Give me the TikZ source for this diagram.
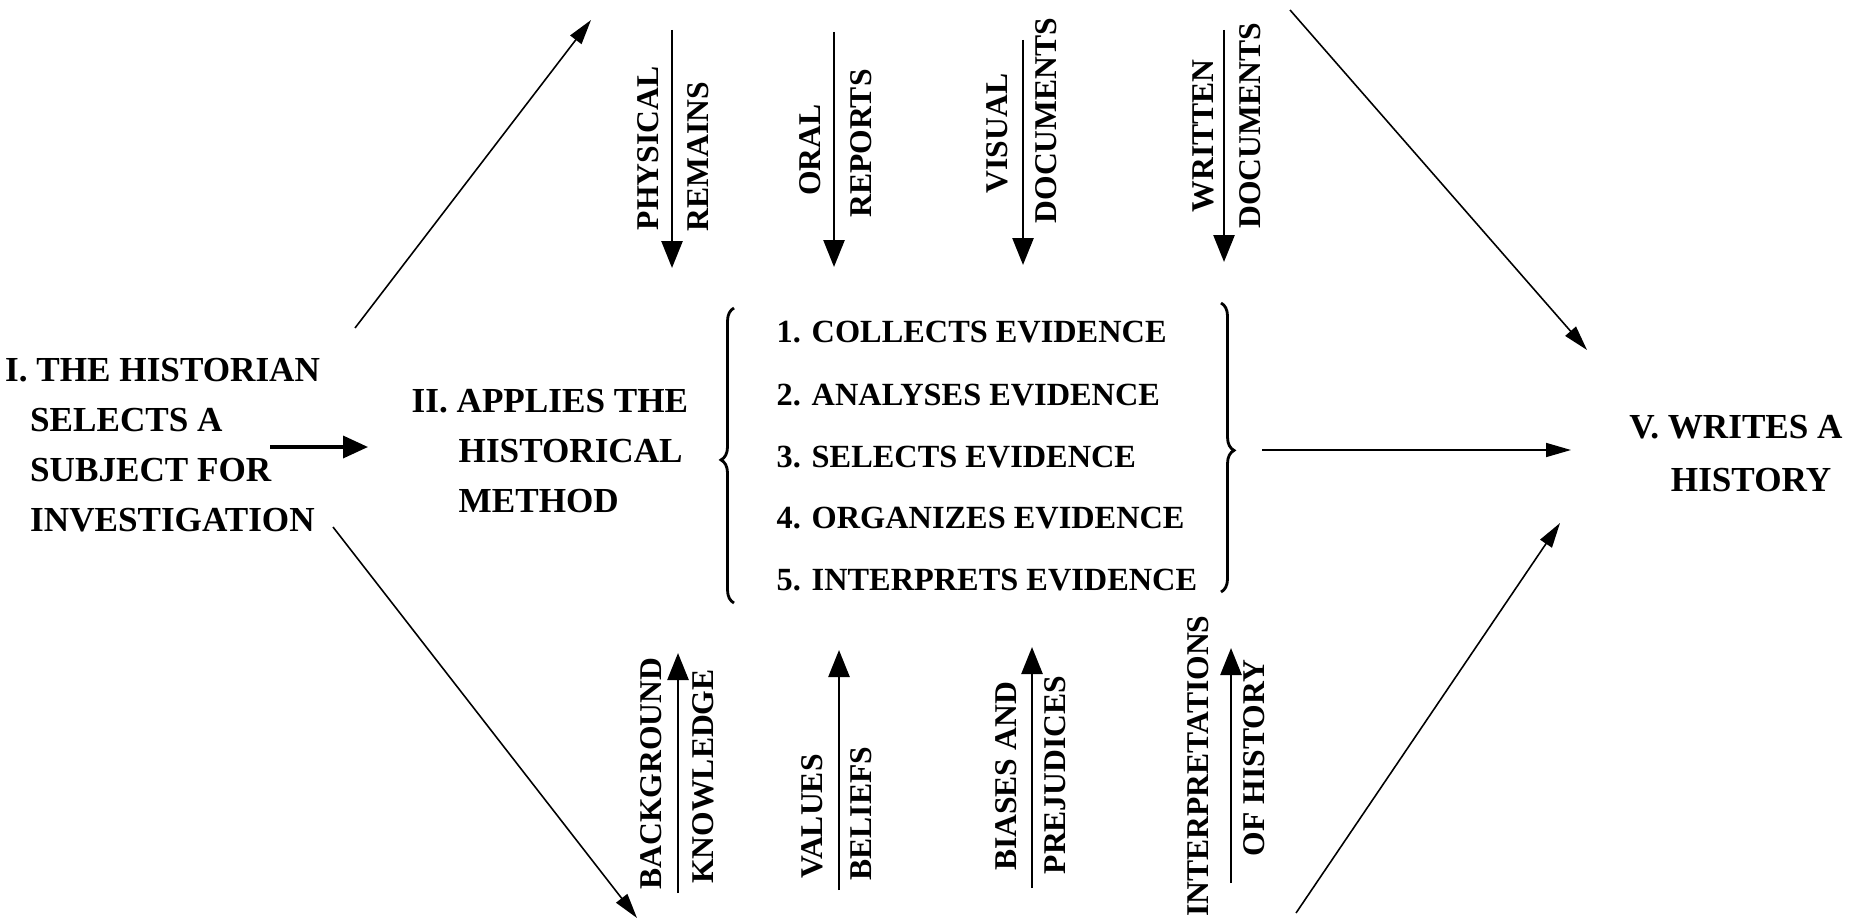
\documentclass[tikz,border=0pt]{standalone}
\usepackage{fontspec}
\setmainfont{Liberation Serif}
\usetikzlibrary{arrows.meta, decorations.pathreplacing}

\begin{document}
\begin{tikzpicture}[
    % Define text styles
    stage/.style={font=\fontsize{10}{14.2}\selectfont\bfseries, align=left, inner sep=0pt},
    evidence/.style={font=\fontsize{9.2}{11}\selectfont\bfseries, anchor=west, inner sep=0pt},
    source/.style={font=\fontsize{9}{10}\selectfont\bfseries, rotate=90, inner sep=0pt},
    % Define arrow styles
    link/.style={-{Triangle[length=2.5mm, width=1.4mm]}, line width=0.45pt},
    feed/.style={-{Triangle[length=2.7mm, width=2.1mm]}, line width=0.75pt},
    push/.style={-{Triangle[length=2.5mm, width=2.2mm]}, line width=1pt},
    % Define brace style
    curly/.style={decorate, decoration={brace, amplitude=1.3mm}, line width=0.8pt}
]

    \useasboundingbox (0,0) rectangle (18.54,9.23);

    % Stages
    \node[stage, anchor=west] (historian) at (0.045,4.78) {I. THE HISTORIAN\\\hspace*{0.25cm}SELECTS A\\\hspace*{0.25cm}SUBJECT FOR\\\hspace*{0.25cm}INVESTIGATION};
    \node[stage, anchor=west] (method) at (4.11,4.72) {II. APPLIES THE\\\hspace*{0.47cm}HISTORICAL\\\hspace*{0.47cm}METHOD};
    \node[stage, align=center, font=\fontsize{10}{15}\selectfont\bfseries] (writes) at (17.36,4.695) {V. WRITES A\\\hspace*{0.3cm}HISTORY};

    % Steps of the method
    \node[evidence] (collects) at (7.76,5.91) {1. COLLECTS EVIDENCE};
    \node[evidence] (analyses) at (7.76,5.28) {2. ANALYSES EVIDENCE};
    \node[evidence] (selects) at (7.76,4.66) {3. SELECTS EVIDENCE};
    \node[evidence] (organizes) at (7.76,4.05) {4. ORGANIZES EVIDENCE};
    \node[evidence] (interprets) at (7.76,3.43) {5. INTERPRETS EVIDENCE};

    % Braces
    \coordinate (lbrace-bot) at (7.34,3.20);
    \coordinate (lbrace-top) at (7.34,6.15);
    \coordinate (rbrace-top) at (12.21,6.20);
    \coordinate (rbrace-bot) at (12.21,3.31);
    \draw[curly, decoration={aspect=0.485}] (lbrace-bot) -- (lbrace-top);
    \draw[curly, decoration={aspect=0.51}] (rbrace-top) -- (rbrace-bot);

    % Main arrows
    \coordinate (hist-out) at (2.70,4.76);
    \coordinate (method-in) at (3.68,4.76);
    \coordinate (steps-out) at (12.62,4.73);
    \coordinate (writes-in) at (15.71,4.73);
    \draw[push] (hist-out) -- (method-in);
    \draw[link] (steps-out) -- (writes-in);

    % Diagonal arrows
    \coordinate (up-start) at (3.55,5.95);
    \coordinate (up-end) at (5.91,9.03);
    \coordinate (down-start) at (3.33,3.96);
    \coordinate (down-end) at (6.37,0.05);
    \coordinate (top-start) at (12.90,9.13);
    \coordinate (top-end) at (15.87,5.73);
    \coordinate (bot-start) at (12.96,0.10);
    \coordinate (bot-end) at (15.60,4.00);
    \draw[link] (up-start) -- (up-end);
    \draw[link] (down-start) -- (down-end);
    \draw[link] (top-start) -- (top-end);
    \draw[link] (bot-start) -- (bot-end);

    % Sources of evidence (top)
    \coordinate (physical-a) at (6.72,8.93);
    \coordinate (physical-b) at (6.72,6.55);
    \coordinate (oral-a) at (8.34,8.91);
    \coordinate (oral-b) at (8.34,6.56);
    \coordinate (visual-a) at (10.23,8.83);
    \coordinate (visual-b) at (10.23,6.58);
    \coordinate (written-a) at (12.24,8.93);
    \coordinate (written-b) at (12.24,6.61);
    \draw[feed] (physical-a) -- (physical-b);
    \draw[feed] (oral-a) -- (oral-b);
    \draw[feed] (visual-a) -- (visual-b);
    \draw[feed] (written-a) -- (written-b);

    \node[source] (physical) at (6.48,7.745) {PHYSICAL};
    \node[source] (remains) at (6.98,7.665) {REMAINS};
    \node[source] (oral) at (8.10,7.73) {ORAL};
    \node[source] (reports) at (8.61,7.795) {REPORTS};
    \node[source] (visual) at (9.97,7.895) {VISUAL};
    \node[source] (visualdocs) at (10.46,8.025) {DOCUMENTS};
    \node[source] (written) at (12.03,7.87) {WRITTEN};
    \node[source] (writtendocs) at (12.50,7.97) {DOCUMENTS};

    % Influences on the historian (bottom)
    \coordinate (background-a) at (6.78,0.30);
    \coordinate (background-b) at (6.78,2.70);
    \coordinate (values-a) at (8.39,0.33);
    \coordinate (values-b) at (8.39,2.73);
    \coordinate (biases-a) at (10.32,0.35);
    \coordinate (biases-b) at (10.32,2.76);
    \coordinate (interp-a) at (12.31,0.40);
    \coordinate (interp-b) at (12.31,2.75);
    \draw[feed] (background-a) -- (background-b);
    \draw[feed] (values-a) -- (values-b);
    \draw[feed] (biases-a) -- (biases-b);
    \draw[feed] (interp-a) -- (interp-b);

    \node[source] (background) at (6.51,1.495) {BACKGROUND};
    \node[source] (knowledge) at (7.03,1.465) {KNOWLEDGE};
    \node[source] (values) at (8.12,1.065) {VALUES};
    \node[source] (beliefs) at (8.61,1.095) {BELIEFS};
    \node[source] (biases) at (10.06,1.465) {BIASES AND};
    \node[source] (prejudices) at (10.55,1.48) {PREJUDICES};
    \node[source] (interpretations) at (11.98,1.57) {INTERPRETATIONS};
    \node[source] (ofhistory) at (12.54,1.65) {OF HISTORY};

\end{tikzpicture}
\end{document}
